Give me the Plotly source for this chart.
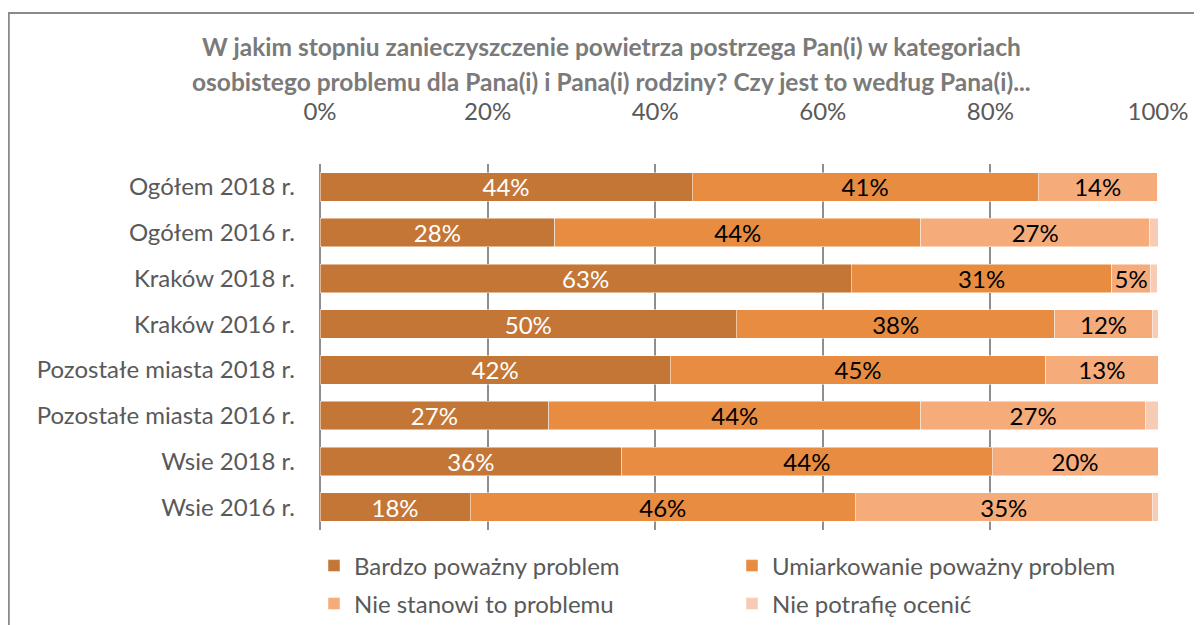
import plotly.graph_objects as go

categories = ["Ogółem 2018 r.", "Ogółem 2016 r.", "Kraków 2018 r.", "Kraków 2016 r.",
              "Pozostałe miasta 2018 r.", "Pozostałe miasta 2016 r.", "Wsie 2018 r.", "Wsie 2016 r."]
bardzo = [44.4, 28.0, 63.4, 49.7, 41.8, 27.3, 36.0, 17.9]
umiarkowanie = [41.3, 43.7, 31.1, 38.0, 44.8, 44.4, 44.2, 46.0]
nie_stanowi = [14.2, 27.3, 4.6, 11.6, 13.4, 26.8, 19.8, 35.4]
nie_potrafie = [0.0, 1.0, 0.8, 0.7, 0.0, 1.5, 0.0, 0.7]
x_ticks = [0, 20, 40, 60, 80, 100]
x_tick_labels = ["0%", "20%", "40%", "60%", "80%", "100%"]

FONT = "Lato"
GRAY = "#595959"
FS = 24

# figure pixel geometry (page body adds an 8px offset)
W, H = 1194, 617
L, T = 312, 156
PW, PH = 838, 366
R, B = W - L - PW, H - T - PH


def px_x(x):
    return (x - L) / PW


def px_y(y):
    return (T + PH - y) / PH


series = [
    ("Bardzo poważny problem", bardzo, "#C47637", "white", True, "legend"),
    ("Umiarkowanie poważny problem", umiarkowanie, "#E88C41", "black", True, "legend"),
    ("Nie stanowi to problemu", nie_stanowi, "#F6AC7A", "black", True, "legend2"),
    ("Nie potrafię ocenić", nie_potrafie, "#F8CBB4", "black", False, "legend2"),
]

fig = go.Figure()
for name, vals, color, tcolor, show_text, leg in series:
    fig.add_trace(go.Bar(
        y=categories, x=vals, name=name, orientation="h",
        marker=dict(color=color, line=dict(color="rgba(255,255,255,0.6)", width=0.8)),
        width=0.62,
        texttemplate="%{x:.0f}%" if show_text else "",
        textposition="inside", insidetextanchor="middle",
        textfont=dict(color=tcolor, size=FS, family=FONT),
        legend=leg, hoverinfo="x+name",
    ))

legend_common = dict(orientation="h", xanchor="left", yanchor="middle",
                     entrywidth=373, entrywidthmode="pixels", traceorder="normal",
                     font=dict(size=FS, color=GRAY, family=FONT), bgcolor="rgba(0,0,0,0)")

fig.update_layout(
    width=W, height=H,
    barmode="stack",
    paper_bgcolor="white", plot_bgcolor="white",
    margin=dict(l=L, r=R, t=T, b=B, autoexpand=False),
    font=dict(family=FONT, size=FS, color=GRAY),
    uniformtext=dict(minsize=FS, mode="show"),
    xaxis=dict(range=[0, 100], side="top", tickmode="array", tickvals=x_ticks, ticktext=x_tick_labels,
               showgrid=True, gridcolor="#8E8E8E", gridwidth=1.5,
               zeroline=True, zerolinecolor="#8E8E8E", zerolinewidth=1.5,
               showline=False, ticks="", ticklabelstandoff=38,
               tickfont=dict(size=FS, color=GRAY, family=FONT), fixedrange=True),
    yaxis=dict(autorange="reversed", showgrid=False, showline=False, ticks="",
               ticklabelstandoff=24, tickfont=dict(size=FS, color=GRAY, family=FONT)),
    legend=dict(x=px_x(306), y=px_y(558), **legend_common),
    legend2=dict(x=px_x(306), y=px_y(596), **legend_common),
    showlegend=True,
)

title_lines = [
    "W jakim stopniu zanieczyszczenie powietrza postrzega Pan(i) w kategoriach",
    "osobistego problemu dla Pana(i) i Pana(i) rodziny? Czy jest to według Pana(i)...",
]
for i, line in enumerate(title_lines):
    fig.add_annotation(text="<b>" + line + "</b>", xref="paper", yref="paper",
                       x=px_x(603), y=px_y(39 + 35 * i),
                       xanchor="center", yanchor="middle", showarrow=False,
                       font=dict(size=24.5, color="#7A7A7A", family=FONT))

fig.add_shape(type="rect", xref="paper", yref="paper",
              x0=px_x(0.8), x1=px_x(W + 20), y0=px_y(H + 20), y1=px_y(5),
              line=dict(color="#8A8A8A", width=2), fillcolor="rgba(0,0,0,0)", layer="below")

fig.write_html("out.html")
